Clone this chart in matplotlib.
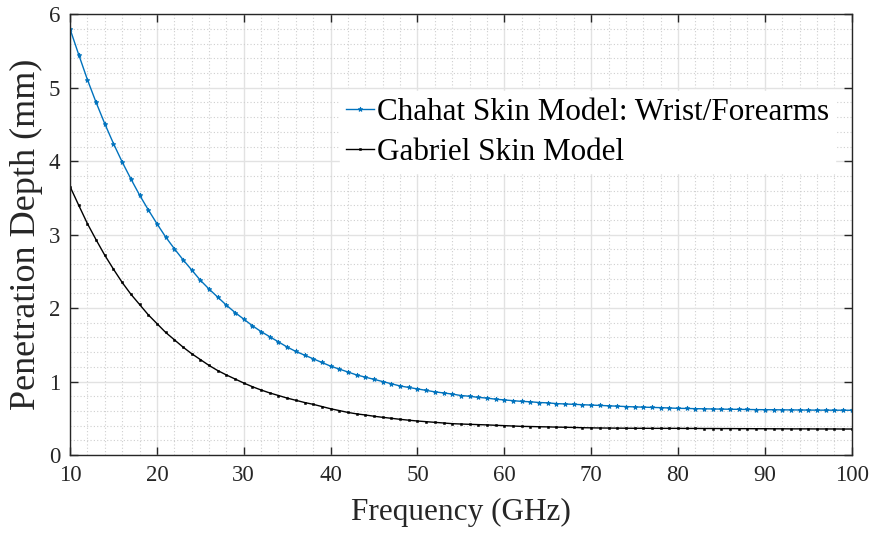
import numpy as np
import matplotlib
matplotlib.use("Agg")
import matplotlib.pyplot as plt
from matplotlib.ticker import MultipleLocator

plt.rcParams['font.family'] = ['Liberation Serif', 'DejaVu Serif']

# frequency sweep, 1 GHz steps
freq = np.arange(10, 101)

# Chahat skin model (wrist/forearms), penetration depth in mm
chahat = [5.80, 5.45, 5.11, 4.80, 4.51, 4.24, 3.99, 3.76, 3.54, 3.34,
          3.15, 2.97, 2.81, 2.66, 2.52, 2.38, 2.26, 2.15, 2.04, 1.94,
          1.85, 1.76, 1.68, 1.61, 1.54, 1.47, 1.41, 1.36, 1.31, 1.26,
          1.21, 1.17, 1.13, 1.09, 1.06, 1.03, 1.00, 0.97, 0.94, 0.92,
          0.90, 0.88, 0.86, 0.845, 0.83, 0.81, 0.80, 0.785, 0.775, 0.76,
          0.75, 0.74, 0.73, 0.725, 0.715, 0.71, 0.70, 0.695, 0.69, 0.685,
          0.68, 0.675, 0.67, 0.665, 0.66, 0.655, 0.652, 0.648, 0.645, 0.64,
          0.636, 0.634, 0.631, 0.629, 0.627, 0.625, 0.623, 0.622, 0.62, 0.618,
          0.617, 0.616, 0.615, 0.614, 0.613, 0.612, 0.611, 0.611, 0.610, 0.610,
          0.609]

# Gabriel skin model, penetration depth in mm
gabriel = [3.655, 3.40, 3.15, 2.93, 2.72, 2.53, 2.35, 2.19, 2.05, 1.91,
           1.79, 1.67, 1.57, 1.47, 1.38, 1.30, 1.22, 1.15, 1.09, 1.035,
           0.98, 0.93, 0.885, 0.845, 0.81, 0.775, 0.745, 0.715, 0.69, 0.66,
           0.63, 0.605, 0.58, 0.56, 0.545, 0.528, 0.513, 0.50, 0.486, 0.474,
           0.463, 0.454, 0.445, 0.436, 0.427, 0.422, 0.418, 0.414, 0.41, 0.405,
           0.40, 0.395, 0.39, 0.388, 0.385, 0.383, 0.38, 0.378, 0.375, 0.372,
           0.37, 0.368, 0.367, 0.366, 0.365, 0.364, 0.364, 0.363, 0.363, 0.363,
           0.363, 0.362, 0.362, 0.361, 0.361, 0.36, 0.36, 0.359, 0.359, 0.358,
           0.358, 0.357, 0.357, 0.356, 0.356, 0.356, 0.355, 0.355, 0.355, 0.354,
           0.354]

labels = ['Chahat Skin Model: Wrist/Forearms', 'Gabriel Skin Model']

fig = plt.figure(figsize=(8.69, 5.33), dpi=100)
ax = fig.add_axes([0.0806, 0.1463, 0.8995, 0.8269])

ax.plot(freq, chahat, color='#0072BD', lw=1.0, marker='*', ms=3.5, mew=0.6,
        label=labels[0])
ax.plot(freq, gabriel, color='black', lw=1.0, marker='s', ms=1.4, mew=0.4,
        label=labels[1])

ax.set_xlim(10, 100)
ax.set_ylim(0, 6)
ax.xaxis.set_major_locator(MultipleLocator(10))
ax.xaxis.set_minor_locator(MultipleLocator(2))
ax.yaxis.set_major_locator(MultipleLocator(1))
ax.yaxis.set_minor_locator(MultipleLocator(0.2))

ax.grid(which='major', color='#e2e2e2', lw=1.0, ls='-')
ax.grid(which='minor', color='#cfcfcf', lw=0.8, ls=(0, (1, 2)))
ax.set_axisbelow(True)

ax.tick_params(which='major', direction='in', length=6, width=1,
               color='#262626', top=True, right=True, labelsize=16.5,
               labelcolor='#262626')
ax.tick_params(axis='y', which='major', pad=7)
ax.tick_params(axis='x', which='major', pad=7)
ax.tick_params(which='minor', length=0)
for s in ax.spines.values():
    s.set_color('#262626')
    s.set_linewidth(1.0)

ax.set_xlabel('Frequency (GHz)', fontsize=22.5, color='#262626', labelpad=9)
ax.set_ylabel('Penetration Depth (mm)', fontsize=26, color='#262626', labelpad=4)

leg = ax.legend(loc='upper left', bbox_to_anchor=(0.345, 0.825), fontsize=22.4,
                handlelength=0.9, handletextpad=0.1, borderpad=0.2,
                labelspacing=0.35, frameon=True, fancybox=False,
                edgecolor='white', facecolor='white', framealpha=1.0,
                borderaxespad=0)

fig.savefig('out.png', dpi=100)
